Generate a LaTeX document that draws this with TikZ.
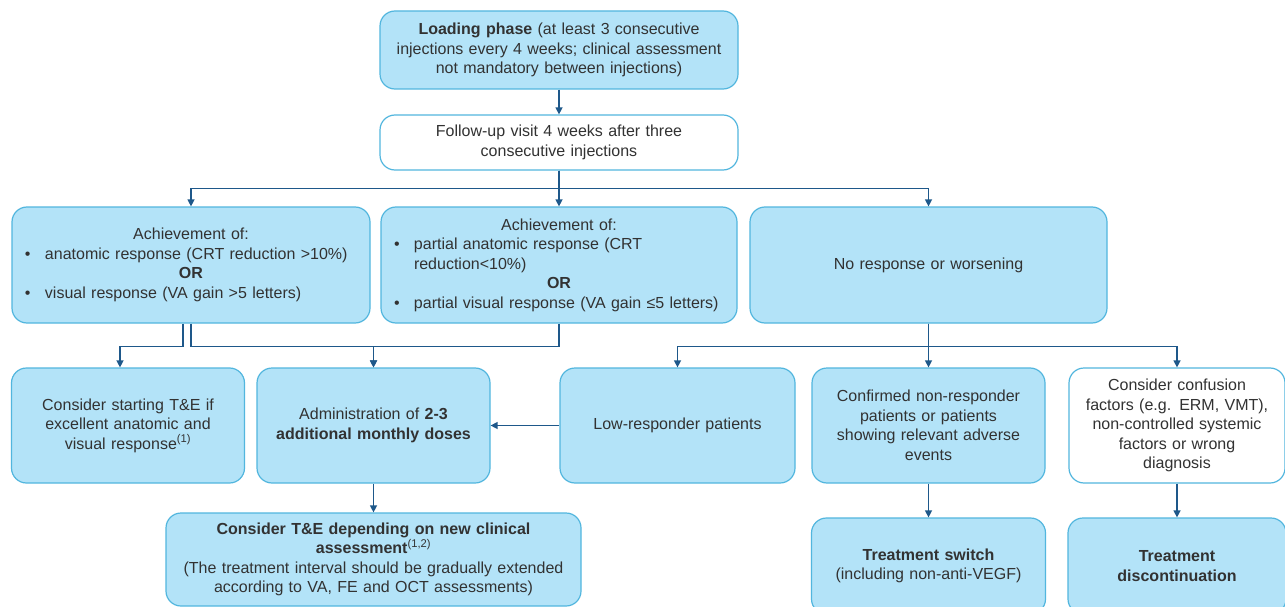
\documentclass[tikz,border=0pt]{standalone}
\usepackage{fontspec}
\setmainfont{Liberation Sans}
\usetikzlibrary{arrows.meta}
\definecolor{boxfill}{RGB}{179,227,248}
\definecolor{boxline}{RGB}{82,182,222}
\definecolor{arrowblue}{RGB}{30,88,138}
\definecolor{textgray}{RGB}{50,50,50}
\newcommand{\bul}{\par\hangindent=29pt\hangafter=1\noindent\makebox[29pt][l]{\hspace{9pt}\textbullet}}

\begin{document}
\begin{tikzpicture}[x=1pt, y=-1pt,
  box/.style={draw=boxline, fill=boxfill, line width=1.2pt, rounded corners=15pt,
    inner xsep=4pt, inner ysep=4pt, align=center, text=textgray,
    font=\fontsize{16}{19.5}\selectfont},
  wbox/.style={box, fill=white},
  arr/.style={draw=arrowblue, line width=1.3pt, -{Triangle[length=7pt,width=7pt]}}]
  \useasboundingbox (0,0) rectangle (1285,607);
  \fill[white] (0,0) rectangle (1285,607);
  \clip (0,0) rectangle (1285,607);

  \node[box, text width=350pt, minimum height=78pt] (load) at (559,50)
    {\textbf{Loading phase} (at least 3 consecutive\\injections every 4 weeks; clinical assessment\\not mandatory between injections)};
  \node[wbox, text width=350pt, minimum height=55pt] (follow) at (559,142.5)
    {Follow-up visit 4 weeks after three\\consecutive injections};

  \node[box, align=left, text width=350pt, minimum height=116pt] (ach1) at (191,265)
    {{\centering Achievement of:\par}
     \bul anatomic response (CRT reduction >10\%)\par
     {\centering\textbf{OR}\par}
     \bul visual response (VA gain >5 letters)\par};
  \node[box, align=left, text width=348pt, minimum height=116pt] (ach2) at (559,265)
    {{\centering Achievement of:\par}
     \bul partial anatomic response (CRT\newline reduction<10\%)\par
     {\centering\textbf{OR}\par}
     \bul partial visual response (VA gain ≤5 letters)\par};
  \node[box, text width=349pt, minimum height=116pt] (nores) at (928.5,265)
    {No response or worsening};

  \node[box, text width=225pt, minimum height=115pt] (cons1) at (128,425.5)
    {Consider starting T\&E if\\excellent anatomic and\\visual response\textsuperscript{(1)}};
  \node[box, text width=225pt, minimum height=115pt] (admin) at (373.5,425.5)
    {Administration of \textbf{2-3}\\\textbf{additional monthly doses}};
  \node[box, text width=227pt, minimum height=115pt] (low) at (677.5,425.5)
    {Low-responder patients};
  \node[box, text width=225pt, minimum height=115pt] (conf) at (928.5,425.5)
    {Confirmed non-responder\\patients or patients\\showing relevant adverse\\events};
  \node[wbox, text width=208pt, minimum height=115pt] (confu) at (1177,425.5)
    {Consider confusion\\factors (e.g. ERM, VMT),\\non-controlled systemic\\factors or wrong\\diagnosis};

  \node[box, text width=407pt, minimum height=93pt] (tne) at (373.5,559.5)
    {\textbf{Consider T\&E depending on new clinical}\\\textbf{assessment}\textsuperscript{(1,2)}\\(The treatment interval should be gradually extended\\according to VA, FE and OCT assessments)};
  \node[box, text width=226pt, minimum height=96pt] (switch) at (928.5,566)
    {\textbf{Treatment switch}\\(including non-anti-VEGF)};
  \node[box, text width=210pt, minimum height=96pt] (stop) at (1177,566)
    {\textbf{Treatment}\\\textbf{discontinuation}};

  \draw[arr] (load) -- (follow);
  \draw[arr] (follow.south) -- ++(0,18) -| (ach1.north);
  \draw[arr] (follow.south) -- (ach2.north);
  \draw[arr] (follow.south) -- ++(0,18) -| (nores.north);
  \draw[arr] ([xshift=-8pt]ach1.south) -- ++(0,23) -| ([xshift=-8pt]cons1.north);
  \draw[arr] (ach1.south) -- ++(0,23) -| (admin.north);
  \draw[arr] (ach2.south) -- ++(0,23) -| (admin.north);
  \draw[arr] (nores.south) -- (conf.north);
  \draw[arr] (nores.south) -- ++(0,23) -| (low.north);
  \draw[arr] (nores.south) -- ++(0,23) -| (confu.north);
  \draw[arr] (low) -- (admin);
  \draw[arr] (admin) -- (tne);
  \draw[arr] (conf) -- (switch);
  \draw[arr] (confu) -- (stop);
\end{tikzpicture}
\end{document}
